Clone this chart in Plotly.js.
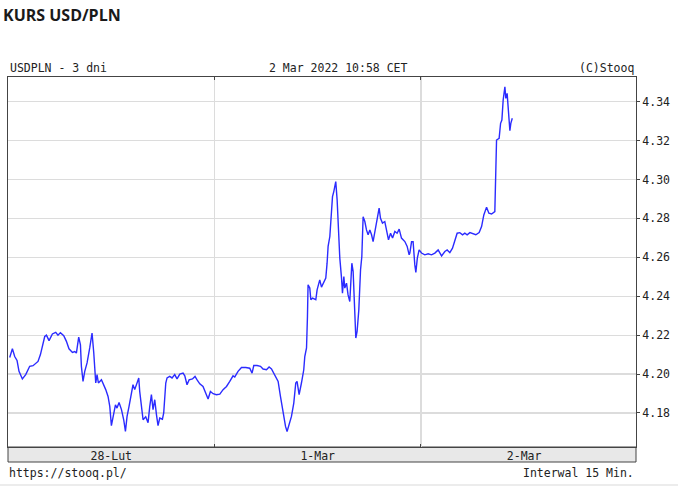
<!DOCTYPE html>
<html>
<head>
<meta charset="utf-8">
<script src="https://cdn.plot.ly/plotly-3.0.1.min.js"></script>
<style>html,body{margin:0;padding:0;background:#fff;}#chart{width:678px;height:486px;}</style>
</head>
<body>
<div id="chart"></div>
<script>
// hours since 28 Feb 2022 00:00 CET
const hours = [0.20,0.51,0.78,1.05,1.28,1.67,2.06,2.52,2.91,3.22,3.49,3.77,4.00,4.27,4.47,4.77,5.16,5.55,5.81,6.09,6.48,6.79,7.09,7.49,7.76,7.95,8.22,8.42,8.53,8.72,8.92,9.19,9.50,9.77,9.97,10.20,10.35,10.51,10.86,11.13,11.36,11.63,11.83,12.02,12.21,12.49,12.67,12.91,13.19,13.45,13.65,13.84,14.07,14.35,14.53,14.73,14.93,15.20,15.31,15.51,15.70,16.01,16.28,16.48,16.67,16.86,17.06,17.26,17.44,17.64,17.95,18.10,18.34,18.49,18.80,19.07,19.38,19.65,19.97,20.35,20.55,20.81,21.05,21.44,21.74,21.98,22.29,22.67,22.91,23.26,23.53,23.84,24.23,24.62,25.00,25.40,25.78,26.16,26.36,26.74,27.14,27.64,28.10,28.37,28.57,28.95,29.35,29.65,30.05,30.35,30.63,31.01,31.40,31.67,31.98,32.26,32.44,32.64,32.95,33.22,33.45,33.60,33.84,34.11,34.23,34.38,34.50,34.70,34.81,34.88,35.08,35.20,35.40,35.78,35.93,36.24,36.44,36.63,36.94,37.09,37.21,37.41,37.56,37.72,37.87,38.10,38.26,38.42,38.57,38.77,38.88,39.04,39.15,39.35,39.53,39.73,39.85,39.97,40.12,40.31,40.43,40.58,40.78,40.98,41.13,41.28,41.48,41.67,41.86,42.06,42.26,42.44,42.67,42.91,43.14,43.30,43.53,43.80,44.00,44.23,44.47,44.70,44.97,45.23,45.47,45.74,46.13,46.40,46.63,46.71,46.91,47.09,47.29,47.41,47.58,47.79,48.07,48.45,48.84,49.23,49.62,50.00,50.40,50.78,51.05,51.36,51.67,51.94,52.21,52.52,52.84,53.10,53.37,53.69,54.00,54.38,54.77,55.05,55.31,55.63,55.90,56.21,56.59,56.71,56.79,57.09,57.26,57.41,57.56,57.76,57.87,58.02,58.19,58.34,58.45,58.62];
const usdpln = [4.2085,4.2130,4.2090,4.2070,4.2014,4.1975,4.1997,4.2040,4.2043,4.2057,4.2065,4.2100,4.2150,4.2193,4.2200,4.2172,4.2206,4.2214,4.2200,4.2213,4.2197,4.2168,4.2130,4.2111,4.2116,4.2108,4.2190,4.2150,4.2040,4.1962,4.2014,4.2057,4.2134,4.2211,4.2108,4.1954,4.1997,4.1954,4.1971,4.1945,4.1920,4.1885,4.1834,4.1735,4.1782,4.1842,4.1825,4.1854,4.1817,4.1765,4.1705,4.1782,4.1834,4.1894,4.1945,4.1920,4.1945,4.1980,4.1911,4.1817,4.1765,4.1780,4.1750,4.1834,4.1894,4.1817,4.1868,4.1790,4.1735,4.1774,4.1768,4.1800,4.1954,4.1980,4.1988,4.1980,4.1997,4.1975,4.2000,4.2005,4.1991,4.1945,4.1970,4.1975,4.1988,4.1970,4.1950,4.1936,4.1910,4.1872,4.1910,4.1899,4.1894,4.1897,4.1920,4.1936,4.1962,4.1991,4.1985,4.2014,4.2034,4.2034,4.2030,4.2005,4.2044,4.2044,4.2040,4.2026,4.2022,4.2036,4.2026,4.1997,4.1962,4.1885,4.1800,4.1731,4.1705,4.1731,4.1782,4.1851,4.1954,4.1962,4.1894,4.1954,4.1980,4.2022,4.2090,4.2134,4.2296,4.2459,4.2442,4.2382,4.2390,4.2382,4.2433,4.2484,4.2447,4.2467,4.2493,4.2570,4.2656,4.2707,4.2792,4.2912,4.2938,4.2989,4.2895,4.2741,4.2596,4.2493,4.2416,4.2501,4.2442,4.2467,4.2407,4.2373,4.2510,4.2570,4.2527,4.2347,4.2185,4.2219,4.2330,4.2536,4.2604,4.2809,4.2784,4.2741,4.2716,4.2741,4.2716,4.2681,4.2741,4.2784,4.2853,4.2801,4.2776,4.2784,4.2741,4.2690,4.2724,4.2699,4.2733,4.2724,4.2745,4.2699,4.2681,4.2656,4.2613,4.2622,4.2680,4.2680,4.2561,4.2522,4.2596,4.2638,4.2622,4.2613,4.2618,4.2613,4.2622,4.2638,4.2607,4.2630,4.2638,4.2624,4.2647,4.2690,4.2724,4.2727,4.2716,4.2724,4.2716,4.2727,4.2721,4.2716,4.2727,4.2758,4.2818,4.2858,4.2827,4.2823,4.2835,4.3015,4.3203,4.3212,4.3289,4.3306,4.3409,4.3477,4.3417,4.3443,4.3349,4.3251,4.3289,4.3315];

const dayBoundaries = [24, 48];
const dayLabelPos = [12, 36, 60];
const dayLabels = ['28-Lut', '1-Mar', '2-Mar'];
const yTicks = [4.18, 4.20, 4.22, 4.24, 4.26, 4.28, 4.30, 4.32, 4.34];
const titleText = 'KURS USD/PLN';
const headerLeft = 'USDPLN - 3 dni';
const headerCenter = '2 Mar 2022 10:58 CET';
const headerRight = '(C)Stooq';
const footerLeft = 'https://stooq.pl/';
const footerRight = 'Interwal 15 Min.';

const mono = 'DejaVu Sans Mono, Liberation Mono, monospace';
const txt = '#222';
const frame = '#444';
const grid = '#dcdcdc';

const traces = [
  {x: hours, y: usdpln, type: 'scatter', mode: 'lines', xaxis: 'x', yaxis: 'y',
   line: {color: '#2b2bff', width: 1.4}, hoverinfo: 'skip'},
  {x: [], y: [], type: 'scatter', mode: 'lines', xaxis: 'x2', yaxis: 'y', hoverinfo: 'skip', showlegend: false}
];

const layout = {
  width: 678, height: 486,
  margin: {l: 8, r: 42, t: 77, b: 39},
  paper_bgcolor: '#fff', plot_bgcolor: '#fff',
  showlegend: false,
  title: {text: titleText, x: 3/678, xanchor: 'left', xref: 'container', y: 1 - 15/486, yanchor: 'middle', yref: 'container',
          font: {family: 'Open Sans, Roboto, sans-serif', size: 16, weight: 700, color: '#1a1a1a'}},
  xaxis: {range: [0, 73], tickvals: dayBoundaries, ticktext: ['', ''], showgrid: true, gridcolor: grid, gridwidth: 1.2,
          ticks: 'inside', ticklen: 3, tickcolor: frame, showline: true, linecolor: frame, linewidth: 1, mirror: 'ticks',
          zeroline: false, fixedrange: true},
  xaxis2: {range: [0, 73], overlaying: 'x', anchor: 'y', side: 'bottom', tickvals: dayLabelPos, ticktext: dayLabels,
           showgrid: false, ticks: '', showline: false, zeroline: false, ticklabelstandoff: 0,
           tickfont: {family: mono, size: 11.5, color: txt}, fixedrange: true},
  yaxis: {range: [4.1625, 4.3527], side: 'right', tickvals: yTicks, tickformat: '.2f', showgrid: true, gridcolor: grid, gridwidth: 1.2,
          ticks: 'outside', ticklen: 3, tickcolor: frame, showline: true, linecolor: frame, linewidth: 1, mirror: true,
          zeroline: false, tickfont: {family: mono, size: 11.5, color: txt}, fixedrange: true},
  shapes: [
    {type: 'rect', xref: 'paper', yref: 'paper', x0: 0, x1: 1, y0: -15/370, y1: 0, fillcolor: '#e8e8e8', line: {color: frame, width: 1}, layer: 'below'},
    {type: 'line', xref: 'paper', yref: 'paper', x0: -8/628, x1: 670/628, y0: -38/370, y1: -38/370, line: {color: '#ececec', width: 2}}
  ],
  annotations: [
    {text: headerLeft, xref: 'paper', yref: 'paper', x: 0, y: (447-68)/370, xanchor: 'left', yanchor: 'middle', showarrow: false, font: {family: mono, size: 11.5, color: txt}},
    {text: headerCenter, xref: 'paper', yref: 'paper', x: (338.5-8)/628, y: (447-68)/370, xanchor: 'center', yanchor: 'middle', showarrow: false, font: {family: mono, size: 11.5, color: txt}},
    {text: headerRight, xref: 'paper', yref: 'paper', x: 1, y: (447-68)/370, xanchor: 'right', yanchor: 'middle', showarrow: false, font: {family: mono, size: 11.5, color: txt}},
    {text: footerLeft, xref: 'paper', yref: 'paper', x: -1/628, y: (447-473)/370, xanchor: 'left', yanchor: 'middle', showarrow: false, font: {family: mono, size: 11.5, color: txt}},
    {text: footerRight, xref: 'paper', yref: 'paper', x: 1, y: (447-473)/370, xanchor: 'right', yanchor: 'middle', showarrow: false, font: {family: mono, size: 11.5, color: txt}}
  ]
};

Plotly.newPlot('chart', traces, layout, {staticPlot: true, displayModeBar: false});
</script>
</body>
</html>
